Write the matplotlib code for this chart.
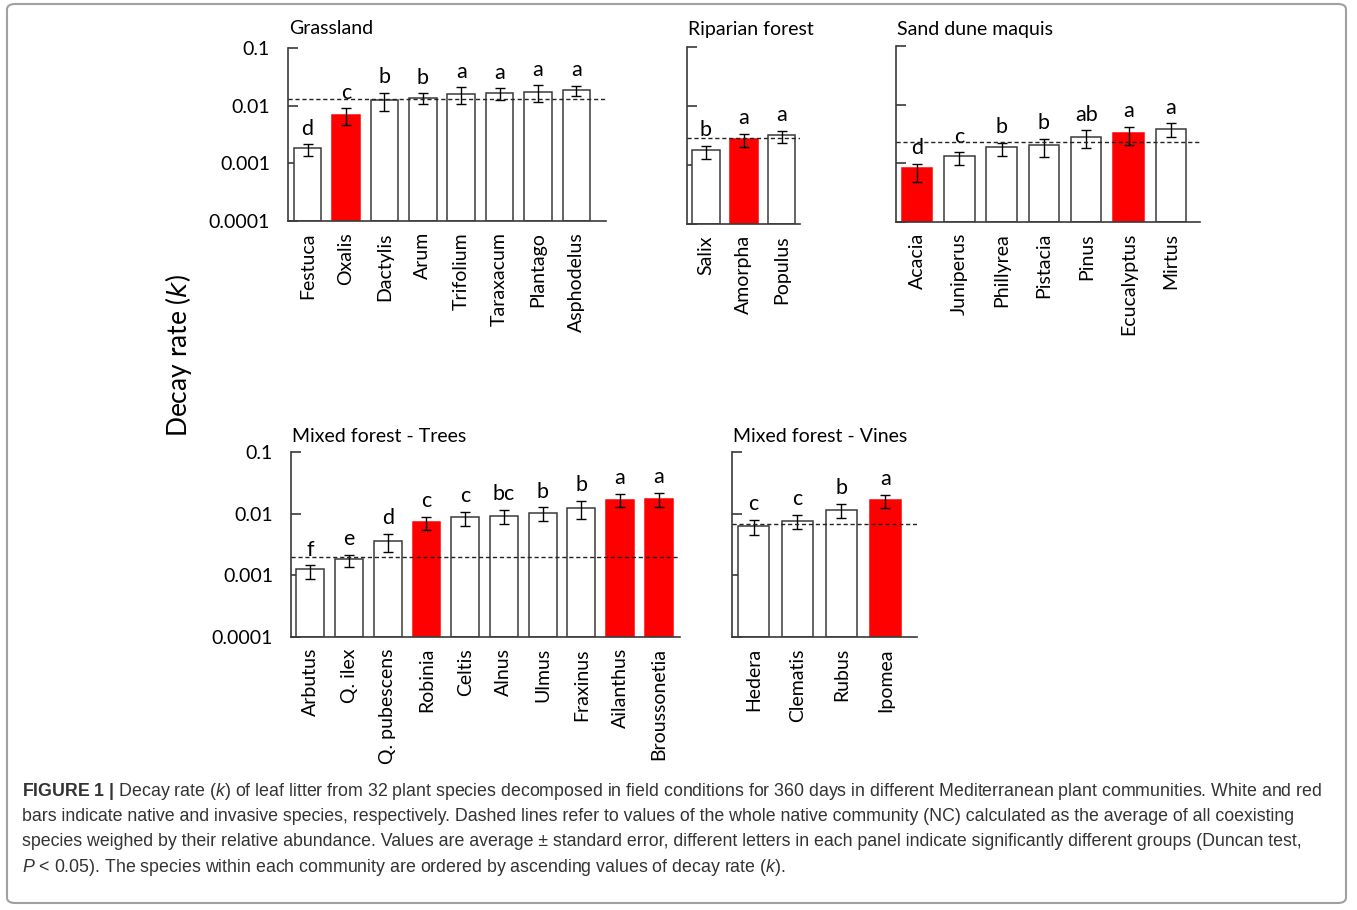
import numpy as np
import matplotlib
matplotlib.use("Agg")
import matplotlib.pyplot as plt
from matplotlib.patches import FancyBboxPatch
from matplotlib import font_manager

W, H = 1357, 910

# ---- data ----
grass_sp = ['Festuca', 'Oxalis', 'Dactylis', 'Arum', 'Trifolium', 'Taraxacum', 'Plantago', 'Asphodelus']
grass_k = [0.00175, 0.0068, 0.0124, 0.0137, 0.0157, 0.0163, 0.0172, 0.0184]
grass_se = [0.0004, 0.0022, 0.0042, 0.0028, 0.005, 0.0038, 0.0055, 0.0038]
grass_let = ['d', 'c', 'b', 'b', 'a', 'a', 'a', 'a']
grass_inv = [0, 1, 0, 0, 0, 0, 0, 0]
grass_nc = 0.0132

rip_sp = ['Salix', 'Amorpha', 'Populus']
rip_k = [0.00169, 0.00271, 0.00308]
rip_se = [0.00043, 0.00066, 0.0007]
rip_let = ['b', 'a', 'a']
rip_inv = [0, 1, 0]
rip_nc = 0.00282

sand_sp = ['Acacia', 'Juniperus', 'Phillyrea', 'Pistacia', 'Pinus', 'Ecucalyptus', 'Mirtus']
sand_k = [0.00074, 0.00123, 0.00178, 0.00195, 0.00275, 0.00313, 0.00381]
sand_se = [0.00025, 0.0003, 0.00047, 0.00066, 0.00094, 0.0011, 0.001]
sand_let = ['d', 'c', 'b', 'b', 'ab', 'a', 'a']
sand_inv = [1, 0, 0, 0, 0, 1, 0]
sand_nc = 0.00232

tree_sp = ['Arbutus', 'Q. ilex', 'Q. pubescens', 'Robinia', 'Celtis', 'Alnus', 'Ulmus',
           'Fraxinus', 'Ailanthus', 'Broussonetia']
tree_k = [0.00116, 0.00177, 0.00356, 0.00714, 0.0086, 0.00916, 0.0101, 0.0122, 0.01687, 0.0173]
tree_se = [0.0003, 0.0004, 0.0012, 0.0017, 0.0022, 0.0023, 0.0026, 0.004, 0.0042, 0.0044]
tree_let = ['f', 'e', 'd', 'c', 'c', 'bc', 'b', 'b', 'a', 'a']
tree_inv = [0, 0, 0, 1, 0, 0, 0, 0, 1, 1]
tree_nc = 0.00199

vine_sp = ['Hedera', 'Clematis', 'Rubus', 'Ipomea']
vine_k = [0.00622, 0.00762, 0.01148, 0.01626]
vine_se = [0.0017, 0.002, 0.0029, 0.0041]
vine_let = ['c', 'c', 'b', 'a']
vine_inv = [0, 0, 0, 1]
vine_nc = 0.00671

yticks = [0.0001, 0.001, 0.01, 0.1]
ytick_labels = ['0.0001', '0.001', '0.01', '0.1']

caption = [
    r'$\mathbf{FIGURE\ 1\ |}$ Decay rate ($\mathit{k}$) of leaf litter from 32 plant species decomposed in field conditions for 360 days in different Mediterranean plant communities. White and red',
    'bars indicate native and invasive species, respectively. Dashed lines refer to values of the whole native community (NC) calculated as the average of all coexisting',
    'species weighed by their relative abundance. Values are average \u00b1 standard error, different letters in each panel indicate significantly different groups (Duncan test,',
    r'$\mathit{P}$ < 0.05). The species within each community are ordered by ascending values of decay rate ($\mathit{k}$).',
]

# ---- fonts ----
plt.rcParams['font.family'] = ['Lato', 'DejaVu Sans']
cap_font = 'Liberation Sans'
try:
    font_manager.findfont('Liberation Sans Narrow', fallback_to_default=False)
    cap_font = 'Liberation Sans Narrow'
except Exception:
    pass
plt.rcParams['mathtext.fontset'] = 'custom'
plt.rcParams['mathtext.rm'] = cap_font
plt.rcParams['mathtext.it'] = cap_font + ':italic'
plt.rcParams['mathtext.bf'] = cap_font + ':bold'

axcol = '#3a3a3a'

fig = plt.figure(figsize=(W / 100, H / 100), dpi=100)


def rect(x0, x1, y0, y1):
    return [x0 / W, 1 - y1 / H, (x1 - x0) / W, (y1 - y0) / H]


def panel(box, xl, title, title_y, sp, k, se, let, inv, nc, labels=True):
    ax = fig.add_axes(rect(*box))
    x = np.arange(len(sp))
    cols = ['#ff0000' if v else 'white' for v in inv]
    edges = ['#ff0000' if v else axcol for v in inv]
    ax.bar(x, k, width=0.72, bottom=0.0001, color=cols, edgecolor=edges, linewidth=1.1, zorder=2)
    ax.errorbar(x, k, yerr=se, fmt='none', ecolor='black',
                elinewidth=1.0, capsize=3.5, capthick=1.0, zorder=3)
    ax.axhline(nc, color='#222222', lw=1.0, ls=(0, (3, 2)), zorder=4)
    for i in range(len(sp)):
        ax.annotate(let[i], (x[i], k[i] + se[i]), xytext=(0, 4), textcoords='offset points',
                    ha='center', va='bottom', fontsize=15.5)
    ax.set_yscale('log')
    ax.set_ylim(0.0001, 0.1)
    ax.set_xlim(-xl[0], len(sp) - 1 + xl[1])
    ax.yaxis.set_major_locator(matplotlib.ticker.FixedLocator(yticks))
    ax.yaxis.set_minor_locator(matplotlib.ticker.NullLocator())
    if labels:
        ax.set_yticklabels(ytick_labels)
    else:
        ax.set_yticklabels([])
    ax.tick_params(axis='y', direction='in', length=7, width=1.2, color=axcol, labelsize=14, pad=13)
    ax.set_xticks(x)
    ax.set_xticklabels(sp, rotation=90, fontsize=14)
    ax.tick_params(axis='x', length=0, pad=8)
    for s in ['top', 'right']:
        ax.spines[s].set_visible(False)
    for s in ['left', 'bottom']:
        ax.spines[s].set_color(axcol)
        ax.spines[s].set_linewidth(1.2)
    ax.patch.set_alpha(0)
    fig.text(box[0] / W + 0.001, 1 - title_y / H, title, fontsize=14, ha='left', va='center')
    return ax


panel((288, 606, 48, 221), (0.51, 0.77), 'Grassland', 29, grass_sp, grass_k, grass_se, grass_let, grass_inv, grass_nc)
panel((687, 800, 47, 224), (0.5, 0.48), 'Riparian forest', 29, rip_sp, rip_k, rip_se, rip_let, rip_inv, rip_nc, labels=False)
panel((896, 1200, 46, 222), (0.5, 0.69), 'Sand dune maquis', 29, sand_sp, sand_k, sand_se, sand_let, sand_inv, sand_nc, labels=False)
panel((291, 680, 452, 637), (0.5, 0.55), 'Mixed forest - Trees', 436, tree_sp, tree_k, tree_se, tree_let, tree_inv, tree_nc)
panel((732, 917, 452, 637), (0.49, 0.72), 'Mixed forest - Vines', 436, vine_sp, vine_k, vine_se, vine_let, vine_inv, vine_nc, labels=False)

fig.text(178 / W, 1 - 356 / H, 'Decay rate ($\\mathit{k}$)', rotation=90, ha='center', va='center',
         fontsize=19, family=['Lato', 'DejaVu Sans'], math_fontfamily='dejavusans')

# outer frame
frame = FancyBboxPatch((7 / W, 1 - 903 / H), 1339 / W, 899 / H, boxstyle='round,pad=0,rounding_size=0.006',
                       transform=fig.transFigure, facecolor='none', edgecolor='#a0a0a0', lw=1.5)
fig.patches.append(frame)

for j, line in enumerate(caption):
    fig.text(22 / W, 1 - (791 + 25.5 * j) / H, line, fontsize=12.8, family=cap_font,
             color='#333333', ha='left', va='center')

fig.savefig('out.png', dpi=100)
